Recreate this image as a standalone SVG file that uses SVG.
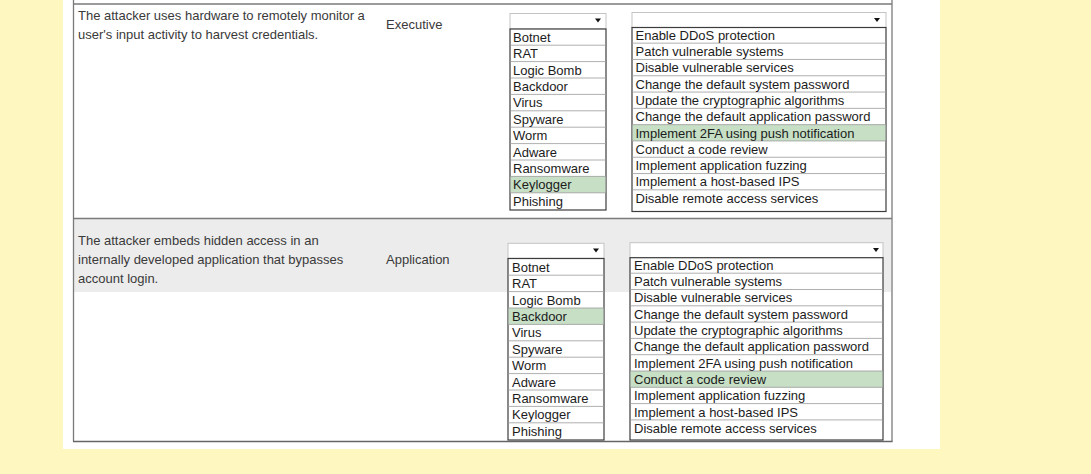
<svg xmlns="http://www.w3.org/2000/svg" width="1091" height="474" viewBox="0 0 1091 474">
<style>
text{font-family:"Liberation Sans",Arial,sans-serif;font-size:13px}
.desc{fill:#3a3a3a}
.it{fill:#1c1c1c}
.tb{stroke:#7a7a7a;stroke-width:1.3;fill:none}
.hdr{fill:#fff;stroke:#c4c4c4;stroke-width:1}
.lst{fill:#fff;stroke:#3c3c3c;stroke-width:1.2}
.sep{stroke:#9a9a9a;stroke-width:0.8}
.hl{fill:#c6dfc5}
.arr{fill:#111}
</style>
<rect x="0" y="0" width="1091" height="474" fill="#fff7c0"/>
<rect x="63" y="0" width="877" height="449" fill="#fff"/>
<rect x="74" y="219" width="817" height="73" fill="#ececec"/>
<g id="table">
<line class="tb" x1="73.5" y1="0" x2="73.5" y2="441.5"/>
<line class="tb" x1="892" y1="0" x2="892" y2="441.5"/>
<line class="tb" x1="73.5" y1="4" x2="892" y2="4"/>
<line class="tb" x1="73.5" y1="218.5" x2="892" y2="218.5"/>
<line class="tb" x1="73" y1="441.5" x2="892.6" y2="441.5" style="stroke:#666;stroke-width:1.6"/>
</g>
<g id="row1-text">
<text class="desc" x="78" y="20">The attacker uses hardware to remotely monitor a</text>
<text class="desc" x="78" y="39">user's input activity to harvest credentials.</text>
<text class="desc" x="386" y="29">Executive</text>
</g>
<g id="row1-attack">
<rect class="hdr" x="510" y="13.5" width="96" height="15.5"/>
<path class="arr" d="M595,18.5h6l-3,4z"/>
<rect class="lst" x="510" y="29" width="96" height="181"/>
<rect class="hl" x="510.6" y="176.4" width="94.8" height="16.4"/>
<g class="sep">
<line x1="510" y1="45.2" x2="606" y2="45.2"/><line x1="510" y1="61.6" x2="606" y2="61.6"/><line x1="510" y1="78" x2="606" y2="78"/><line x1="510" y1="94.4" x2="606" y2="94.4"/><line x1="510" y1="110.8" x2="606" y2="110.8"/><line x1="510" y1="127.2" x2="606" y2="127.2"/><line x1="510" y1="143.6" x2="606" y2="143.6"/><line x1="510" y1="160" x2="606" y2="160"/><line x1="510" y1="176.4" x2="606" y2="176.4"/><line x1="510" y1="192.8" x2="606" y2="192.8"/>
</g>
<text class="it" x="513" y="41.7">Botnet</text>
<text class="it" x="513" y="58.1">RAT</text>
<text class="it" x="513" y="74.5">Logic Bomb</text>
<text class="it" x="513" y="90.9">Backdoor</text>
<text class="it" x="513" y="107.3">Virus</text>
<text class="it" x="513" y="123.7">Spyware</text>
<text class="it" x="513" y="140.1">Worm</text>
<text class="it" x="513" y="156.5">Adware</text>
<text class="it" x="513" y="172.9">Ransomware</text>
<text class="it" x="513" y="189.3">Keylogger</text>
<text class="it" x="513" y="205.7">Phishing</text>
</g>
<g id="row1-mitigation">
<rect class="hdr" x="632" y="12.5" width="254" height="15"/>
<path class="arr" d="M874,18h6l-3,4z"/>
<rect class="lst" x="632" y="27.5" width="254" height="184"/>
<rect class="hl" x="632.6" y="124.65" width="252.8" height="16.3"/>
<g class="sep">
<line x1="632" y1="43.15" x2="886" y2="43.15"/><line x1="632" y1="59.45" x2="886" y2="59.45"/><line x1="632" y1="75.75" x2="886" y2="75.75"/><line x1="632" y1="92.05" x2="886" y2="92.05"/><line x1="632" y1="108.35" x2="886" y2="108.35"/><line x1="632" y1="124.65" x2="886" y2="124.65"/><line x1="632" y1="140.95" x2="886" y2="140.95"/><line x1="632" y1="157.25" x2="886" y2="157.25"/><line x1="632" y1="173.55" x2="886" y2="173.55"/><line x1="632" y1="189.85" x2="886" y2="189.85"/>
</g>
<text class="it" x="635.5" y="39.7">Enable DDoS protection</text>
<text class="it" x="635.5" y="56">Patch vulnerable systems</text>
<text class="it" x="635.5" y="72.3">Disable vulnerable services</text>
<text class="it" x="635.5" y="88.6">Change the default system password</text>
<text class="it" x="635.5" y="104.9">Update the cryptographic algorithms</text>
<text class="it" x="635.5" y="121.2">Change the default application password</text>
<text class="it" x="635.5" y="137.5">Implement 2FA using push notification</text>
<text class="it" x="635.5" y="153.8">Conduct a code review</text>
<text class="it" x="635.5" y="170.1">Implement application fuzzing</text>
<text class="it" x="635.5" y="186.4">Implement a host-based IPS</text>
<text class="it" x="635.5" y="202.7">Disable remote access services</text>
</g>
<g id="row2-text">
<text class="desc" x="78" y="244.5">The attacker embeds hidden access in an</text>
<text class="desc" x="78" y="263.5">internally developed application that bypasses</text>
<text class="desc" x="78" y="283">account login.</text>
<text class="desc" x="386" y="263.5">Application</text>
</g>
<g id="row2-attack">
<rect class="hdr" x="508" y="243.3" width="96" height="15"/>
<path class="arr" d="M593,248.5h6l-3,4z"/>
<rect class="lst" x="508" y="258.5" width="96" height="181.5"/>
<rect class="hl" x="508.6" y="308" width="94.8" height="16.4"/>
<g class="sep">
<line x1="508" y1="275.2" x2="604" y2="275.2"/><line x1="508" y1="291.6" x2="604" y2="291.6"/><line x1="508" y1="308" x2="604" y2="308"/><line x1="508" y1="324.4" x2="604" y2="324.4"/><line x1="508" y1="340.8" x2="604" y2="340.8"/><line x1="508" y1="357.2" x2="604" y2="357.2"/><line x1="508" y1="373.6" x2="604" y2="373.6"/><line x1="508" y1="390" x2="604" y2="390"/><line x1="508" y1="406.4" x2="604" y2="406.4"/><line x1="508" y1="422.8" x2="604" y2="422.8"/>
</g>
<text class="it" x="512" y="271.7">Botnet</text>
<text class="it" x="512" y="288.1">RAT</text>
<text class="it" x="512" y="304.5">Logic Bomb</text>
<text class="it" x="512" y="320.9">Backdoor</text>
<text class="it" x="512" y="337.3">Virus</text>
<text class="it" x="512" y="353.7">Spyware</text>
<text class="it" x="512" y="370.1">Worm</text>
<text class="it" x="512" y="386.5">Adware</text>
<text class="it" x="512" y="402.9">Ransomware</text>
<text class="it" x="512" y="419.3">Keylogger</text>
<text class="it" x="512" y="435.7">Phishing</text>
</g>
<g id="row2-mitigation">
<rect class="hdr" x="630" y="242.7" width="253" height="15"/>
<path class="arr" d="M873,248h6l-3,4z"/>
<rect class="lst" x="630" y="257.7" width="253" height="182.3"/>
<rect class="hl" x="630.6" y="371" width="251.8" height="16.3"/>
<g class="sep">
<line x1="630" y1="273.2" x2="883" y2="273.2"/><line x1="630" y1="289.5" x2="883" y2="289.5"/><line x1="630" y1="305.8" x2="883" y2="305.8"/><line x1="630" y1="322.1" x2="883" y2="322.1"/><line x1="630" y1="338.4" x2="883" y2="338.4"/><line x1="630" y1="354.7" x2="883" y2="354.7"/><line x1="630" y1="371" x2="883" y2="371"/><line x1="630" y1="387.3" x2="883" y2="387.3"/><line x1="630" y1="403.6" x2="883" y2="403.6"/><line x1="630" y1="419.9" x2="883" y2="419.9"/>
</g>
<text class="it" x="634" y="269.8">Enable DDoS protection</text>
<text class="it" x="634" y="286.1">Patch vulnerable systems</text>
<text class="it" x="634" y="302.4">Disable vulnerable services</text>
<text class="it" x="634" y="318.7">Change the default system password</text>
<text class="it" x="634" y="335">Update the cryptographic algorithms</text>
<text class="it" x="634" y="351.3">Change the default application password</text>
<text class="it" x="634" y="367.6">Implement 2FA using push notification</text>
<text class="it" x="634" y="383.9">Conduct a code review</text>
<text class="it" x="634" y="400.2">Implement application fuzzing</text>
<text class="it" x="634" y="416.5">Implement a host-based IPS</text>
<text class="it" x="634" y="432.8">Disable remote access services</text>
</g>
</svg>
